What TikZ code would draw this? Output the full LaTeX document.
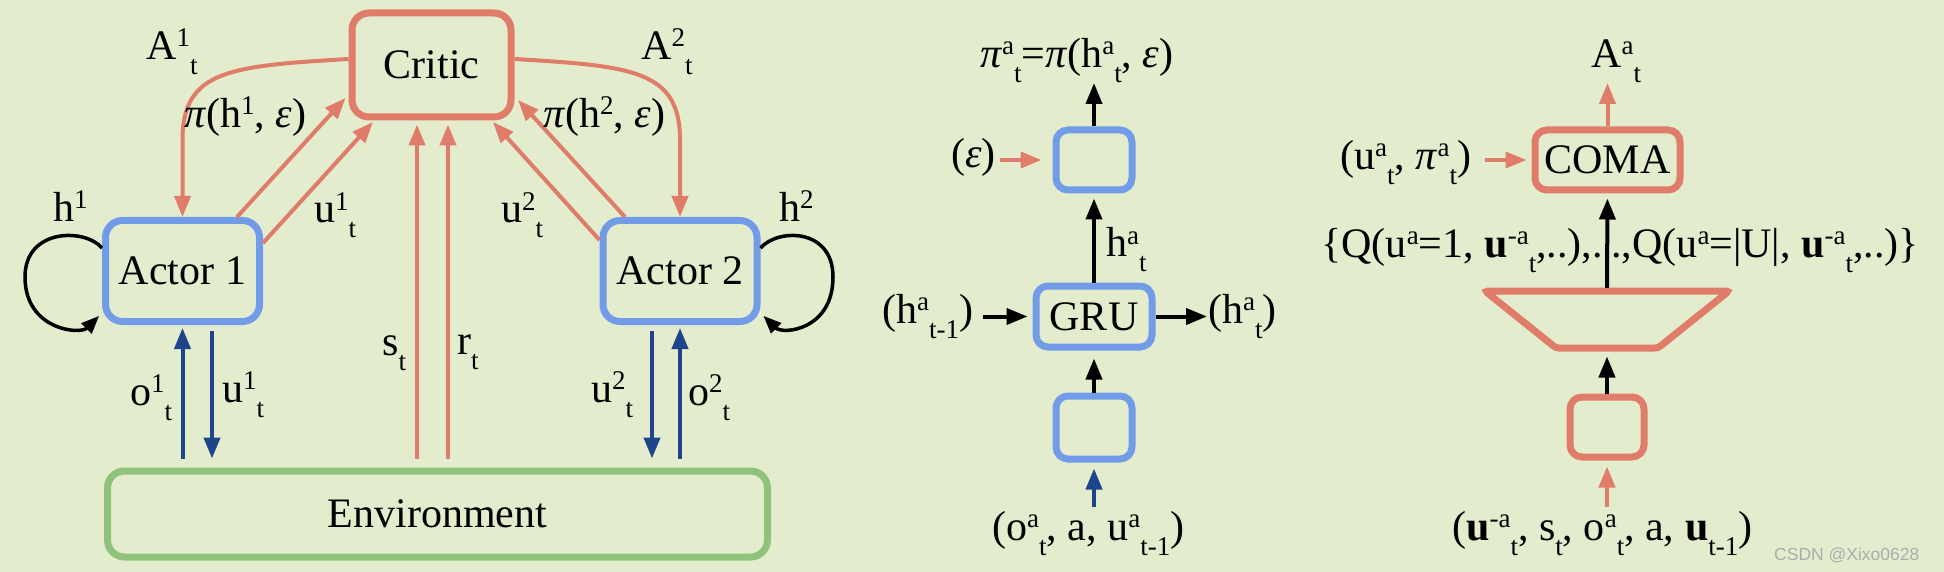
\documentclass[tikz,border=0pt]{standalone}
\usepackage{fontspec}
\setmainfont{Liberation Serif}
\newfontfamily\wmfont{Liberation Sans}
\usetikzlibrary{arrows.meta,calc}
\definecolor{bg}{RGB}{227,237,206}
\definecolor{cred}{RGB}{224,124,106}
\definecolor{cblue}{RGB}{114,156,232}
\definecolor{dblue}{RGB}{30,68,140}
\definecolor{cgreen}{RGB}{143,194,123}
\newcommand\lblfont{\fontsize{42}{46}\selectfont}
\newcommand\boxfont{\fontsize{42}{48}\selectfont}
\newcommand\scfont{\fontsize{27}{27}\selectfont}
\newcommand\SU[2]{\raisebox{13pt}{\scfont #1}\raisebox{-15pt}{\scfont #2}}
\newcommand\SP[1]{\raisebox{13pt}{\scfont #1}}
\newcommand\SB[1]{\raisebox{-15pt}{\scfont #1}}
\tikzset{
  box/.style={draw, rounded corners=17pt, line width=7pt, inner sep=0pt, font=\boxfont},
  redbox/.style={box, draw=cred},
  bluebox/.style={box, draw=cblue},
  lbl/.style={inner sep=0pt, anchor=base west, font=\lblfont},
  tip/.style={-{Triangle[length=21pt,width=16pt]}},
  rarr/.style={draw=cred, line width=4pt, tip},
  barr/.style={draw=black, line width=4pt, tip},
  darr/.style={draw=dblue, line width=4pt, tip},
  selfloop/.style={draw=black, line width=3.5pt, -{Triangle[length=18pt,width=14pt]}},
}
\begin{document}
\begin{tikzpicture}[x=1pt,y=-1pt]
\useasboundingbox (0,0) rectangle (1944,572);
\fill[bg] (0,0) rectangle (1944,572);

% ---------- left part ----------
\node[redbox, minimum width=159pt, minimum height=104pt] (critic) at (431.5,65) {Critic};
\node[bluebox, minimum width=154pt, minimum height=101pt] (a1) at (182.5,271) {Actor 1};
\node[bluebox, minimum width=154pt, minimum height=101pt] (a2) at (680,271) {Actor 2};
\node[box, draw=cgreen, minimum width=660pt, minimum height=86pt] (env) at (437.5,514) {Environment};

% critic -> actors
\draw[rarr] ([yshift=6pt]critic.west) .. controls (230,66) and (182.5,70) .. (182.5,140) -- (a1.north);
\draw[rarr] ([yshift=6pt]critic.east) .. controls (632,66) and (680,70) .. (680,140) -- (a2.north);

% actors -> critic
\draw[rarr] ([xshift=54.5pt]a1.north) -- ([xshift=-3pt,yshift=-33pt]critic.west);
\draw[rarr] ([yshift=28pt]a1.east) -- ([xshift=-58.5pt,yshift=-1.5pt]critic.south);
\draw[rarr] ([xshift=-55pt]a2.north) -- ([xshift=3.5pt,yshift=-35pt]critic.east);
\draw[rarr] ([yshift=31pt]a2.west) -- ([xshift=61.5pt,yshift=-1.5pt]critic.south);

% environment -> critic
\coordinate (s1) at ($(env.north)+(-20.5,-9)$);
\coordinate (r1) at ($(env.north)+(10.5,-9)$);
\draw[rarr, shorten >=4pt] (s1) -- (s1 |- critic.south);
\draw[rarr, shorten >=4pt] (r1) -- (r1 |- critic.south);

% actors <-> environment
\coordinate (o1) at ($(a1.south |- env.north)+(0,-9)$);
\coordinate (u1) at ($(a1.south)+(29.5,6)$);
\draw[darr, shorten >=3pt] (o1) -- (a1.south);
\draw[darr, shorten >=9pt] (u1) -- (u1 |- env.north);
\coordinate (o2) at ($(a2.south |- env.north)+(0,-9)$);
\coordinate (u2) at ($(a2.south)+(-28,6)$);
\draw[darr, shorten >=3pt] (o2) -- (a2.south);
\draw[darr, shorten >=9pt] (u2) -- (u2 |- env.north);

% self loops
\draw[selfloop, shorten >=4pt] ([yshift=23pt]a1.west) .. controls (85,228) and (25,228) .. (25,277)
   .. controls (25,330) and (80,335) .. ([yshift=-42pt]a1.west);
\draw[selfloop, shorten >=4pt] ([yshift=23pt]a2.east) .. controls (778,228) and (833,228) .. (833,277)
   .. controls (833,330) and (783,335) .. ([yshift=-42pt]a2.east);

% labels left
\node[lbl] (lA1) at (146,60) {A\SU{1}{t}};
\node[lbl] (lA2) at (641,60) {A\SU{2}{t}};
\node[lbl] (lp1) at (184,128) {\textit{π}(h\SP{1}, \textit{ε})};
\node[lbl] (lp2) at (543,128) {\textit{π}(h\SP{2}, \textit{ε})};
\node[lbl] (lh1) at (53,222) {h\SP{1}};
\node[lbl] (lh2) at (779,222) {h\SP{2}};
\node[lbl] (lu1) at (314,223) {u\SU{1}{t}};
\node[lbl] (lu2) at (501,223) {u\SU{2}{t}};
\node[lbl] (lst) at (382,355) {s\SB{t}};
\node[lbl] (lrt) at (457,354) {r\SB{t}};
\node[lbl] (lo1) at (130,405) {o\SU{1}{t}};
\node[lbl] (lu1b) at (222,402) {u\SU{1}{t}};
\node[lbl] (lu2b) at (591,402) {u\SU{2}{t}};
\node[lbl] (lo2) at (688,405) {o\SU{2}{t}};

% ---------- middle part (actor network) ----------
\node[bluebox, rounded corners=12pt, minimum width=76pt, minimum height=60pt] (pol) at (1094,160) {};
\node[bluebox, rounded corners=12pt, minimum width=116pt, minimum height=61pt] (gru) at (1094,316.5) {GRU};
\node[bluebox, rounded corners=12pt, minimum width=76pt, minimum height=63pt] (enc) at (1094,427.5) {};

\coordinate (piA) at (1094,83);
\draw[barr] (pol.north) -- (piA);
\draw[barr, shorten >=5pt] (gru.north) -- (pol.south);
\draw[barr, shorten >=8pt] (enc.north) -- (gru.south);
\coordinate (obsA) at (1094,507);
\draw[darr, shorten >=6pt] (obsA) -- (enc.south);
\coordinate (epsA) at (1000,160);
\draw[rarr, shorten >=11pt] (epsA) -- (pol.west);
\coordinate (hinA) at (983,316.5);
\draw[barr, shorten >=5pt] (hinA) -- (gru.west);
\coordinate (houtA) at (1207,316.5);
\draw[barr] (gru.east) -- (houtA);

\node[lbl] (lpi) at (980,68) {\textit{π}\SU{a}{t}=\textit{π}(h\SU{a}{t}, \textit{ε})};
\node[lbl] (leps) at (951,168) {(\textit{ε})};
\node[lbl] (lha) at (1106,257) {h\SU{a}{t}};
\node[lbl] (lhin) at (882,323) {(h\SU{a}{t-1})};
\node[lbl] (lhout) at (1208,323) {(h\SU{a}{t})};
\node[lbl] (lobs) at (992,540) {(o\SU{a}{t}, a, u\SU{a}{t-1})};

% ---------- right part (critic network) ----------
\node[redbox, rounded corners=12pt, minimum width=145pt, minimum height=60pt] (coma) at (1607.5,160) {COMA};
\node[redbox, rounded corners=12pt, minimum width=74pt, minimum height=60pt] (cenc) at (1607,427) {};
\draw[cred, line width=7pt, rounded corners=3pt] (1485,291) -- (1729,291) -- (1658,348) -- (1556,348) -- cycle;
\coordinate (trapT) at (1607,288);
\coordinate (trapB) at (1607,351.5);

\coordinate (AaA) at (1607.5,83);
\draw[rarr] (coma.north) -- (AaA);
\coordinate (upA) at (1485,160);
\draw[rarr, shorten >=5pt] (upA) -- (coma.west);
\draw[barr, shorten >=5pt] (trapT) -- (coma.south);
\draw[barr, shorten >=5pt] (cenc.north) -- (trapB);
\coordinate (qinA) at (1607,507);
\draw[rarr, shorten >=6pt] (qinA) -- (cenc.south);

\node[lbl] (lAa) at (1591,68) {A\SU{a}{t}};
\node[lbl] (lupi) at (1340,170) {(u\SU{a}{t}, \textit{π}\SU{a}{t})};
\node[lbl, anchor=base east] (lq1) at (1603,258) {\{Q(u\SP{a}=1, \textbf{u}\SU{-a}{t},..),.};
\node[lbl] (lq2) at (1611,258) {.,Q(u\SP{a}=|U|, \textbf{u}\SU{-a}{t},..)\}};
\node[lbl] (lin) at (1452,540) {(\textbf{u}\SU{-a}{t}, s\SB{t}, o\SU{a}{t}, a, \textbf{u}\SB{t-1})};

\node[anchor=base west, inner sep=0pt, font=\wmfont\fontsize{17.5}{20}\selectfont, text=gray!65] (wm) at (1774,560) {CSDN @Xixo0628};
\end{tikzpicture}
\end{document}
